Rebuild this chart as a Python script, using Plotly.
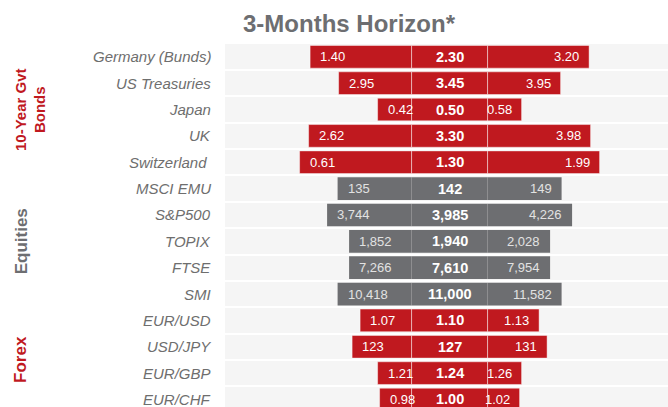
import plotly.graph_objects as go

# Forecast table: low / central / high for each market
assets = ["Germany (Bunds)", "US Treasuries", "Japan", "UK", "Switzerland\u00a0",
          "MSCI EMU", "S&P500", "TOPIX", "FTSE", "SMI",
          "EUR/USD", "USD/JPY", "EUR/GBP", "EUR/CHF"]
asset_class = ["bonds"] * 5 + ["equities"] * 5 + ["forex"] * 4
low = [1.40, 2.95, 0.42, 2.62, 0.61, 135, 3744, 1852, 7266, 10418, 1.07, 123, 1.21, 0.98]
central = [2.30, 3.45, 0.50, 3.30, 1.30, 142, 3985, 1940, 7610, 11000, 1.10, 127, 1.24, 1.00]
high = [3.20, 3.95, 0.58, 3.98, 1.99, 149, 4226, 2028, 7954, 11582, 1.13, 131, 1.26, 1.02]
decimals = [2, 2, 2, 2, 2, 0, 0, 0, 0, 0, 2, 0, 2, 2]
# relative width of each forecast band (index units)
range_width = [279, 222, 144, 282, 300, 224, 245, 201, 201, 224, 179, 195, 144, 140]

group_labels = [("10-Year Gvt<br>Bonds", "bonds"), ("Equities", "equities"), ("Forex", "forex")]

RED = "#c0191f"
GREY = "#6d6e71"
BAND = "#f5f5f5"
FONT = "Liberation Sans, Arial, sans-serif"
MID = 38  # half width of the central segment
PLOT_L, PLOT_W = 225, 443

class_color = {"bonds": RED, "equities": GREY, "forex": RED}
colors = [class_color[c] for c in asset_class]
edge = ["rgba(255,255,255,0.45)" if c == RED else c for c in colors]
edge_w = [1 if c == RED else 0 for c in colors]

rows = list(range(len(assets)))
half = [w / 2 for w in range_width]

fig = go.Figure()
segments = [
    ([-h for h in half], [h - MID for h in half]),
    ([-MID] * len(rows), [2 * MID] * len(rows)),
    ([MID] * len(rows), [h - MID for h in half]),
]
for base, length in segments:
    fig.add_trace(go.Bar(
        y=rows, x=length, base=base, orientation="h", width=0.86,
        marker=dict(color=colors, line=dict(color=edge, width=edge_w)),
        hoverinfo="skip", showlegend=False,
    ))


def fmt(v, d):
    return f"{v:,.{d}f}"


ann = []
for i in rows:
    side_col = "#ffffff" if colors[i] == RED else "#e2e2e2"
    ann.append(dict(x=-half[i], y=i, xref="x", yref="y", text=fmt(low[i], decimals[i]),
                    xanchor="left", yanchor="middle", xshift=8, showarrow=False,
                    font=dict(family=FONT, size=13, color=side_col)))
    ann.append(dict(x=half[i], y=i, xref="x", yref="y", text=fmt(high[i], decimals[i]),
                    xanchor="right", yanchor="middle", xshift=-8, showarrow=False,
                    font=dict(family=FONT, size=13, color=side_col)))
    ann.append(dict(x=0, y=i, xref="x", yref="y", text="<b>" + fmt(central[i], decimals[i]) + "</b>",
                    xanchor="center", yanchor="middle", showarrow=False,
                    font=dict(family=FONT, size=14.5, color="#ffffff")))
    ann.append(dict(x=0, y=i, xref="paper", yref="y", text=assets[i],
                    xanchor="right", yanchor="middle", xshift=-12, showarrow=False,
                    font=dict(family=FONT, size=15, color="#6e6e6e", style="italic")))

# section labels down the left side
for text, cls in group_labels:
    idx = [i for i in rows if asset_class[i] == cls]
    two_line = "<br>" in text
    centre_px = 30.5 if two_line else 21
    ann.append(dict(x=(centre_px - PLOT_L) / PLOT_W, y=(idx[0] + idx[-1]) / 2,
                    xref="paper", yref="y",
                    text="<b>" + text + "</b>", textangle=-90,
                    xanchor="center", yanchor="middle", showarrow=False,
                    font=dict(family=FONT, size=15 if two_line else 17,
                              color=class_color[cls])))

fig.update_layout(
    width=668, height=407,
    margin=dict(l=PLOT_L, r=0, t=44, b=0),
    paper_bgcolor="white", plot_bgcolor=BAND,
    barmode="overlay",
    title=dict(text="<b>3-Months Horizon*</b>", x=349 / 668, xanchor="center",
               y=1 - 24 / 407, yanchor="middle", yref="container",
               font=dict(family=FONT, size=24, color="#6d6e71")),
    xaxis=dict(range=[-224.6, 218.4], visible=False, fixedrange=True),
    yaxis=dict(range=[13.285, -0.486], showticklabels=False, showgrid=False,
               zeroline=False, ticks="", fixedrange=True,
               minor=dict(tickvals=[i + 0.5 for i in rows], showgrid=True,
                          gridcolor="white", gridwidth=2, ticks="")),
    annotations=ann,
    showlegend=False,
)

fig.write_html("out.html")
